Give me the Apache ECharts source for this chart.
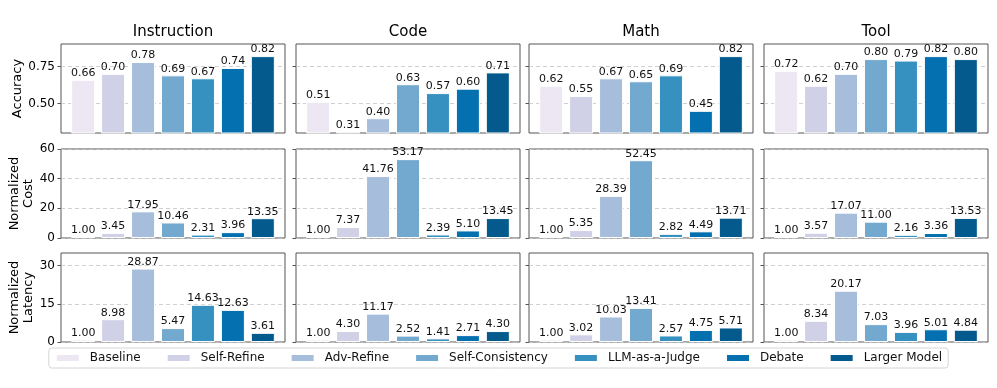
<!DOCTYPE html>
<html lang="en">
<head>
  <meta charset="UTF-8">
  <title>Accuracy / Cost / Latency</title>
  <style>
    html, body { margin: 0; padding: 0; background: #fff; }
    #chart { width: 997px; height: 388px; }
  </style>
</head>
<body>
  <div id="chart"></div>

  <script src="https://cdn.jsdelivr.net/npm/echarts@6/dist/echarts.min.js"></script>
  <script>
    // domains (columns) and methods (bars)
    var domains = ['Instruction', 'Code', 'Math', 'Tool'];
    var methods = ['Baseline', 'Self-Refine', 'Adv-Refine', 'Self-Consistency', 'LLM-as-a-Judge', 'Debate', 'Larger Model'];

    // values per domain, in method order
    var accuracy = [
      [0.66, 0.70, 0.78, 0.69, 0.67, 0.74, 0.82],
      [0.51, 0.31, 0.40, 0.63, 0.57, 0.60, 0.71],
      [0.62, 0.55, 0.67, 0.65, 0.69, 0.45, 0.82],
      [0.72, 0.62, 0.70, 0.80, 0.79, 0.82, 0.80]
    ];
    var cost = [
      [1.00, 3.45, 17.95, 10.46, 2.31, 3.96, 13.35],
      [1.00, 7.37, 41.76, 53.17, 2.39, 5.10, 13.45],
      [1.00, 5.35, 28.39, 52.45, 2.82, 4.49, 13.71],
      [1.00, 3.57, 17.07, 11.00, 2.16, 3.36, 13.53]
    ];
    var latency = [
      [1.00, 8.98, 28.87, 5.47, 14.63, 12.63, 3.61],
      [1.00, 4.30, 11.17, 2.52, 1.41, 2.71, 4.30],
      [1.00, 3.02, 10.03, 13.41, 2.57, 4.75, 5.71],
      [1.00, 8.34, 20.17, 7.03, 3.96, 5.01, 4.84]
    ];

    // tick labels per row
    var accuracyTicks = [0.50, 0.75];
    var costTicks = [0, 20, 40, 60];
    var latencyTicks = [0, 15, 30];

    var colors = ['#ece7f2', '#d0d1e6', '#a6bddb', '#74a9cf', '#3690c0', '#0570b0', '#045a8d'];
    var font = 'DejaVu Sans';

    var rows = [
      { name: 'Accuracy', data: accuracy, ticks: accuracyTicks, min: 0.3, max: 0.902, gap: 36, fmt: function (v) { return v.toFixed(2); } },
      { name: 'Normalized\nCost', data: cost, ticks: costTicks, min: 0, max: 60, gap: 25, fmt: function (v) { return String(v); } },
      { name: 'Normalized\nLatency', data: latency, ticks: latencyTicks, min: 0, max: 35, gap: 25, fmt: function (v) { return String(v); } }
    ];

    var panelLeft = [61, 296, 529, 764];
    var panelTop = [44, 149, 253];
    var panelW = 224, panelH = 89;

    var grids = [], xAxes = [], yAxes = [], series = [], titles = [];

    domains.forEach(function (d, c) {
      titles.push({
        text: d,
        left: panelLeft[c] + panelW / 2,
        top: 25,
        textAlign: 'center',
        padding: 0,
        textStyle: { fontFamily: font, fontSize: 15, fontWeight: 'normal', color: '#000' }
      });
    });

    rows.forEach(function (row, r) {
      domains.forEach(function (d, c) {
        var g = grids.length;
        grids.push({
          left: panelLeft[c], top: panelTop[r], width: panelW, height: panelH,
          show: true, borderColor: '#555', borderWidth: 1, backgroundColor: 'transparent'
        });
        xAxes.push({
          gridIndex: g, type: 'value', min: -0.74, max: 6.74, show: false
        });
        yAxes.push({
          gridIndex: g, type: 'value', min: row.min, max: row.max,
          name: c === 0 ? row.name : '',
          nameLocation: 'middle', nameRotate: 90, nameGap: row.gap,
          nameTextStyle: { fontFamily: font, fontSize: 13, color: '#000', lineHeight: 14 },
          axisLine: { show: false, onZero: false },
          axisTick: { show: true, length: 3.5, customValues: row.ticks, lineStyle: { color: '#555' } },
          axisLabel: {
            show: c === 0, customValues: row.ticks, margin: 6,
            fontFamily: font, fontSize: 12, color: '#000',
            formatter: row.fmt
          },
          splitLine: { show: true, lineStyle: { color: '#c4c4c4', type: [4, 3], width: 0.8 } }
        });
        methods.forEach(function (m, k) {
          series.push({
            type: 'bar', name: m,
            xAxisIndex: g, yAxisIndex: g,
            data: [[k, row.data[c][k]]],
            barWidth: 24, barGap: '-100%',
            itemStyle: { color: colors[k], borderColor: '#fff', borderWidth: 1 },
            label: {
              show: true, position: 'top', distance: 1,
              fontFamily: font, fontSize: 11, color: '#111',
              formatter: function (p) { return p.value[1].toFixed(2); }
            }
          });
        });
      });
    });

    var chart = echarts.init(document.getElementById('chart'));
    chart.setOption({
      animation: false,
      title: titles,
      legend: {
        data: methods,
        top: 348, left: 'center',
        icon: 'rect', itemWidth: 24, itemHeight: 8, itemGap: 25,
        padding: [4, 6],
        borderColor: '#d5d5d5', borderWidth: 1, borderRadius: 3,
        textStyle: { fontFamily: font, fontSize: 12, color: '#111', padding: [0, 0, 0, 5] }
      },
      grid: grids,
      xAxis: xAxes,
      yAxis: yAxes,
      series: series
    });
  </script>
</body>
</html>
